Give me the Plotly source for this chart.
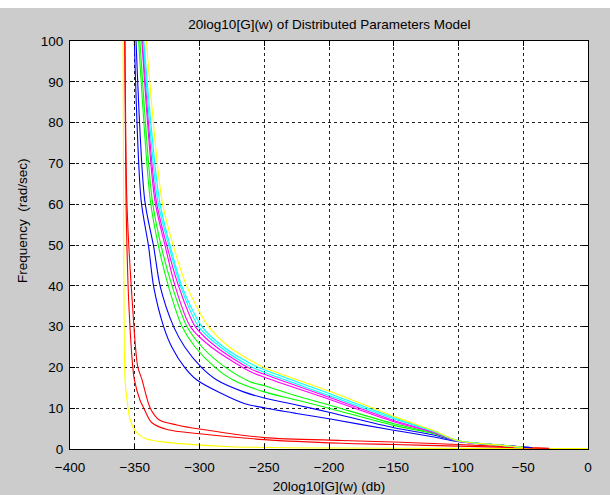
import plotly.graph_objects as go

# ---- data: magnitude (dB) and frequency (rad/sec) for each curve ----
yellow1_mag = [-359, -358.6, -358.3, -357.5, -356, -353.5, -348.5, -341.4, -330, -302, -276, -200, -100, 0]
yellow1_freq = [100, 60, 36, 17, 12, 7.1, 4.0, 2.5, 1.8, 1.0, 0.56, 0.25, 0.15, 0.1]

red1_mag = [-357.8, -356.7, -354.7, -351.5, -350.3, -346, -343, -337, -325, -300, -250, -190, -150, -100, -50, -30]
red1_freq = [100, 60, 36.5, 20, 17, 12, 10, 6.5, 4.8, 3.75, 2.3, 1.4, 1.1, 0.7, 0.3, 0.1]

red2_mag = [-357.5, -356, -352, -347.7, -344.4, -338, -331, -317.4, -300, -250, -190, -150, -100, -60, -30]
red2_freq = [100, 60, 36.5, 20.2, 17, 10, 7.1, 5.9, 4.9, 2.8, 2.1, 1.7, 1.1, 0.5, 0.2]

blue1_mag = [-350.3, -345.1, -339.3, -335.4, -327.7, -321.4, -311.5, -302, -266, -250, -225, -200, -150, -120, -100, -70, -43]
blue1_freq = [100, 61, 49.6, 39.8, 30, 25, 20, 16.9, 11.2, 10.1, 8.7, 7.4, 4.6, 3.0, 1.8, 1.0, 0.3]

blue2_mag = [-349, -342.3, -335.4, -330.3, -320, -311.4, -298.5, -286.6, -266, -250, -225, -200, -150, -120, -100, -70, -45]
blue2_freq = [100, 61, 49.6, 39.8, 30, 25, 20, 16.9, 14.0, 12.5, 10.8, 9.0, 5.2, 3.5, 1.9, 1.0, 0.4]

green1_mag = [-347, -338, -331.6, -323.9, -313.5, -303.4, -288, -274, -250, -225, -200, -150, -120, -100, -70, -50]
green1_freq = [100, 61, 49.6, 39.8, 30, 25, 20, 16.9, 14.0, 12.0, 10.0, 5.8, 3.8, 1.9, 1.0, 0.4]

green2_mag = [-346, -336.5, -329.5, -321, -309.7, -298, -280, -261, -250, -225, -200, -150, -120, -100, -70, -50]
green2_freq = [100, 61, 49.6, 39.8, 30, 25, 20, 16.5, 15.5, 13.0, 10.8, 6.2, 4.0, 1.9, 1.0, 0.4]

magenta1_mag = [-344.5, -334.5, -326.4, -318.7, -307.1, -291, -261, -250, -200, -150, -120, -100, -70, -52]
magenta1_freq = [100, 61, 49.6, 39.8, 30, 25, 19.0, 17.6, 12.2, 6.7, 4.1, 1.9, 1.0, 0.4]

magenta2_mag = [-344, -333.5, -325, -316, -303.3, -287, -261, -250, -200, -150, -120, -100, -70, -52]
magenta2_freq = [100, 61, 49.6, 39.8, 30, 25, 19.7, 18.3, 12.7, 7.0, 4.2, 1.9, 1.0, 0.4]

cyan1_mag = [-343.5, -332.3, -323.5, -314.5, -300.7, -284, -261, -250, -200, -150, -120, -100, -70, -52]
cyan1_freq = [100, 61, 49.6, 39.8, 30, 25, 20.3, 18.8, 13.1, 7.4, 4.4, 2.0, 1.0, 0.4]

cyan2_mag = [-343, -331, -322.5, -313.5, -298.1, -281.4, -261, -250, -200, -150, -120, -100, -70, -52]
cyan2_freq = [100, 61, 49.6, 39.8, 30, 25, 21.0, 19.4, 13.6, 7.7, 4.5, 2.0, 1.0, 0.4]

yellow2_mag = [-341, -329, -320, -309.7, -293, -277, -261, -250, -200, -150, -120, -100, -70, -50]
yellow2_freq = [100, 61, 49.6, 39.8, 30, 25, 21.8, 19.9, 14.2, 8.0, 4.6, 2.0, 1.0, 0.4]

x_ticks = [-400, -350, -300, -250, -200, -150, -100, -50, 0]
y_ticks = [0, 10, 20, 30, 40, 50, 60, 70, 80, 90, 100]

curves = [
    (yellow1_mag, yellow1_freq, "#ffff00"),
    (red1_mag, red1_freq, "#ff0000"),
    (red2_mag, red2_freq, "#ff0000"),
    (blue1_mag, blue1_freq, "#0000ff"),
    (blue2_mag, blue2_freq, "#0000ff"),
    (green1_mag, green1_freq, "#00ff00"),
    (green2_mag, green2_freq, "#00ff00"),
    (magenta1_mag, magenta1_freq, "#ff00ff"),
    (magenta2_mag, magenta2_freq, "#ff00ff"),
    (cyan1_mag, cyan1_freq, "#00ffff"),
    (cyan2_mag, cyan2_freq, "#00ffff"),
    (yellow2_mag, yellow2_freq, "#ffff00"),
]

fig = go.Figure()
for mag, freq, col in curves:
    fig.add_trace(go.Scatter(x=mag, y=freq, mode="lines",
                             line=dict(color=col, width=1.1, shape="spline", smoothing=0.8),
                             showlegend=False, hoverinfo="skip"))

FONT = "Liberation Sans, Arial, sans-serif"
axis_common = dict(
    showline=True, linecolor="black", linewidth=1, mirror="ticks",
    ticks="inside", ticklen=5, tickcolor="black", automargin=False,
    showgrid=True, gridcolor="#222222", gridwidth=1, griddash="3px,3px",
    zeroline=False, tickfont=dict(family=FONT, size=13.5, color="black"),
)

fig.update_layout(
    width=610, height=495,
    margin=dict(l=70, r=22, t=41, b=46),
    paper_bgcolor="#cccccc", plot_bgcolor="white",
    font=dict(family=FONT, size=13.5, color="black"),
    title=dict(text="20log10[G](w) of Distributed Parameters Model",
               x=0.54, xanchor="center", y=1 - 24 / 495, yanchor="middle", yref="container",
               font=dict(family=FONT, size=13.5, color="black")),
    xaxis=dict(range=[-400, 0], tickvals=x_ticks, ticklabelstandoff=6, **axis_common,
               title=dict(text="20log10[G](w) (db)", standoff=7,
                          font=dict(family=FONT, size=13.5, color="black"))),
    yaxis=dict(range=[0, 100], tickvals=y_ticks, ticklabelstandoff=3, **axis_common),
    annotations=[dict(text="Frequency  (rad/sec)", textangle=-90,
                      xref="paper", yref="paper",
                      x=-(70 - 22) / 518, y=(449 - 221) / 408,
                      xanchor="center", yanchor="middle", showarrow=False,
                      font=dict(family=FONT, size=13.5, color="black"))],
    shapes=[dict(type="rect", xref="paper", yref="paper",
                 x0=-70 / 518, x1=1 + 22 / 518,
                 y0=1 + (41 - 8) / 408, y1=1 + 41 / 408,
                 fillcolor="white", line=dict(width=0), layer="above")],
)

fig.write_html("out.html", config={"displayModeBar": False},
               post_script="document.body.style.margin='0';")
